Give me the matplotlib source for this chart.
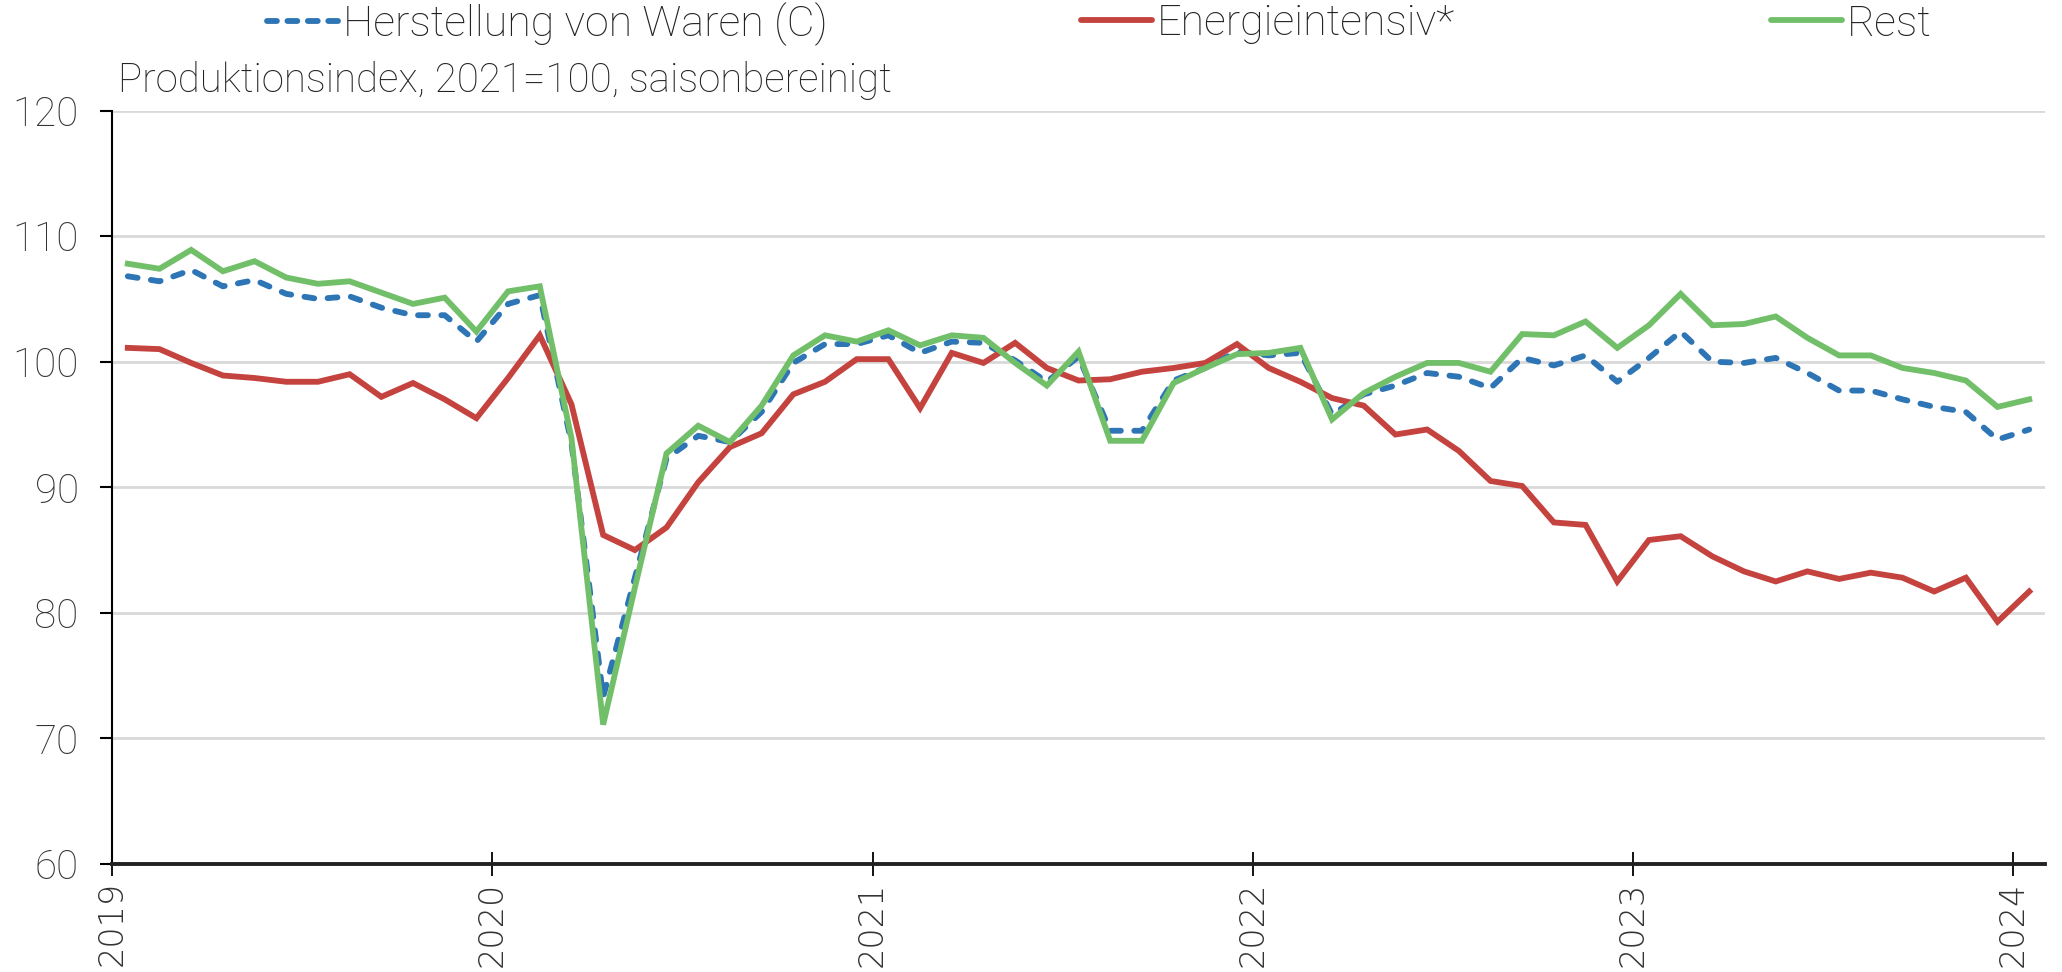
import numpy as np
import matplotlib
matplotlib.use("Agg")
import matplotlib.pyplot as plt
from matplotlib.lines import Line2D

# monthly values, Jan 2019 .. Jan 2024 (index 2021 = 100, seasonally adjusted)
years = ["2019", "2020", "2021", "2022", "2023", "2024"]

waren = [106.8, 106.4, 107.3, 106.0, 106.5, 105.4, 105.0, 105.2, 104.3, 103.7, 103.7, 101.6,
         104.6, 105.3, 93.5, 73.3, 82.8, 92.3, 94.1, 93.6, 96.0, 99.9, 101.4, 101.4,
         102.1, 100.7, 101.6, 101.5, 100.1, 98.4, 100.4, 94.5, 94.5, 98.5, 99.5, 100.8,
         100.5, 100.7, 95.8, 97.4, 98.1, 99.1, 98.8, 97.9, 100.3, 99.7, 100.5, 98.4,
         100.3, 102.4, 100.0, 99.9, 100.3, 99.1, 97.7, 97.7, 97.0, 96.4, 96.0, 93.8, 94.6]

energie = [101.1, 101.0, 99.9, 98.9, 98.7, 98.4, 98.4, 99.0, 97.2, 98.3, 97.0, 95.5,
           98.7, 102.1, 96.6, 86.2, 85.0, 86.8, 90.4, 93.2, 94.3, 97.4, 98.4, 100.2,
           100.2, 96.3, 100.7, 99.9, 101.5, 99.5, 98.5, 98.6, 99.2, 99.5, 99.9, 101.4,
           99.5, 98.4, 97.1, 96.5, 94.2, 94.6, 92.9, 90.5, 90.1, 87.2, 87.0, 82.5,
           85.8, 86.1, 84.5, 83.3, 82.5, 83.3, 82.7, 83.2, 82.8, 81.7, 82.8, 79.3, 81.7]

rest = [107.8, 107.4, 108.9, 107.2, 108.0, 106.7, 106.2, 106.4, 105.5, 104.6, 105.1, 102.4,
        105.6, 106.0, 93.9, 71.1, 82.0, 92.7, 94.9, 93.6, 96.5, 100.5, 102.1, 101.6,
        102.5, 101.3, 102.1, 101.9, 99.9, 98.1, 100.8, 93.7, 93.7, 98.3, 99.5, 100.6,
        100.7, 101.1, 95.4, 97.5, 98.8, 99.9, 99.9, 99.2, 102.2, 102.1, 103.2, 101.1,
        102.9, 105.4, 102.9, 103.0, 103.6, 101.9, 100.5, 100.5, 99.5, 99.1, 98.5, 96.4, 97.0]

labels = ["Herstellung von Waren (C)", "Energieintensiv*", "Rest"]
colors = ["#2e75b6", "#c5433f", "#72bf6a"]

plt.rcParams["font.family"] = ["Roboto", "DejaVu Sans"]
plt.rcParams["font.weight"] = "light"

fig = plt.figure(figsize=(20.62, 9.72), dpi=100)
ax = fig.add_axes([0.0543, 0.1111, 0.9375, 0.7752])

# points sit in the middle of each month
x = np.arange(len(waren)) + 0.5
lw = 4.2
ax.plot(x, waren, color=colors[0], lw=lw, dashes=(1.7, 2.3), dash_capstyle="round", zorder=3)
ax.plot(x, energie, color=colors[1], lw=lw, solid_joinstyle="miter", zorder=4)
ax.plot(x, rest, color=colors[2], lw=lw, solid_joinstyle="miter", zorder=5)

ax.set_xlim(0, len(waren))
ax.set_ylim(60, 120)
ax.set_yticks(np.arange(60, 121, 10))
ax.set_xticks(np.arange(0, len(waren), 12))
ax.set_xticklabels(years, rotation=90, family="DejaVu Sans", fontsize=24, color="#333333")
ax.tick_params(axis="x", direction="inout", length=17, width=1.3, pad=4)
ax.tick_params(axis="y", direction="out", length=9, width=1.5, pad=15, labelsize=29, labelcolor="#333333")

ax.grid(axis="y", color="#d9d9d9", lw=2)
ax.set_axisbelow(True)
for side in ["top", "right"]:
    ax.spines[side].set_visible(False)
ax.spines["left"].set_linewidth(1.5)
ax.spines["bottom"].set_linewidth(2.8)
ax.spines["bottom"].set_color("#222222")

fig.text(118 / 2062, 1 - 80 / 972, "Produktionsindex, 2021=100, saisonbereinigt",
         fontsize=29, va="center", ha="left", color="#222222")

# three legend entries spread over the top
starts = [267, 1081, 1771]
for lab, col, sx, dashed in zip(labels, colors, starts, [True, False, False]):
    h = Line2D([], [], color=col, lw=lw, solid_capstyle="round")
    if dashed:
        h.set_dashes((1.7, 1.8))
        h.set_dash_capstyle("round")
    fig.legend([h], [lab], loc="center left", bbox_to_anchor=(sx / 2062, 1 - 24 / 972),
               frameon=False, fontsize=31, handlelength=1.65, handletextpad=0.12,
               borderpad=0, borderaxespad=0, labelcolor="#222222")

fig.savefig("out.png", dpi=100)
